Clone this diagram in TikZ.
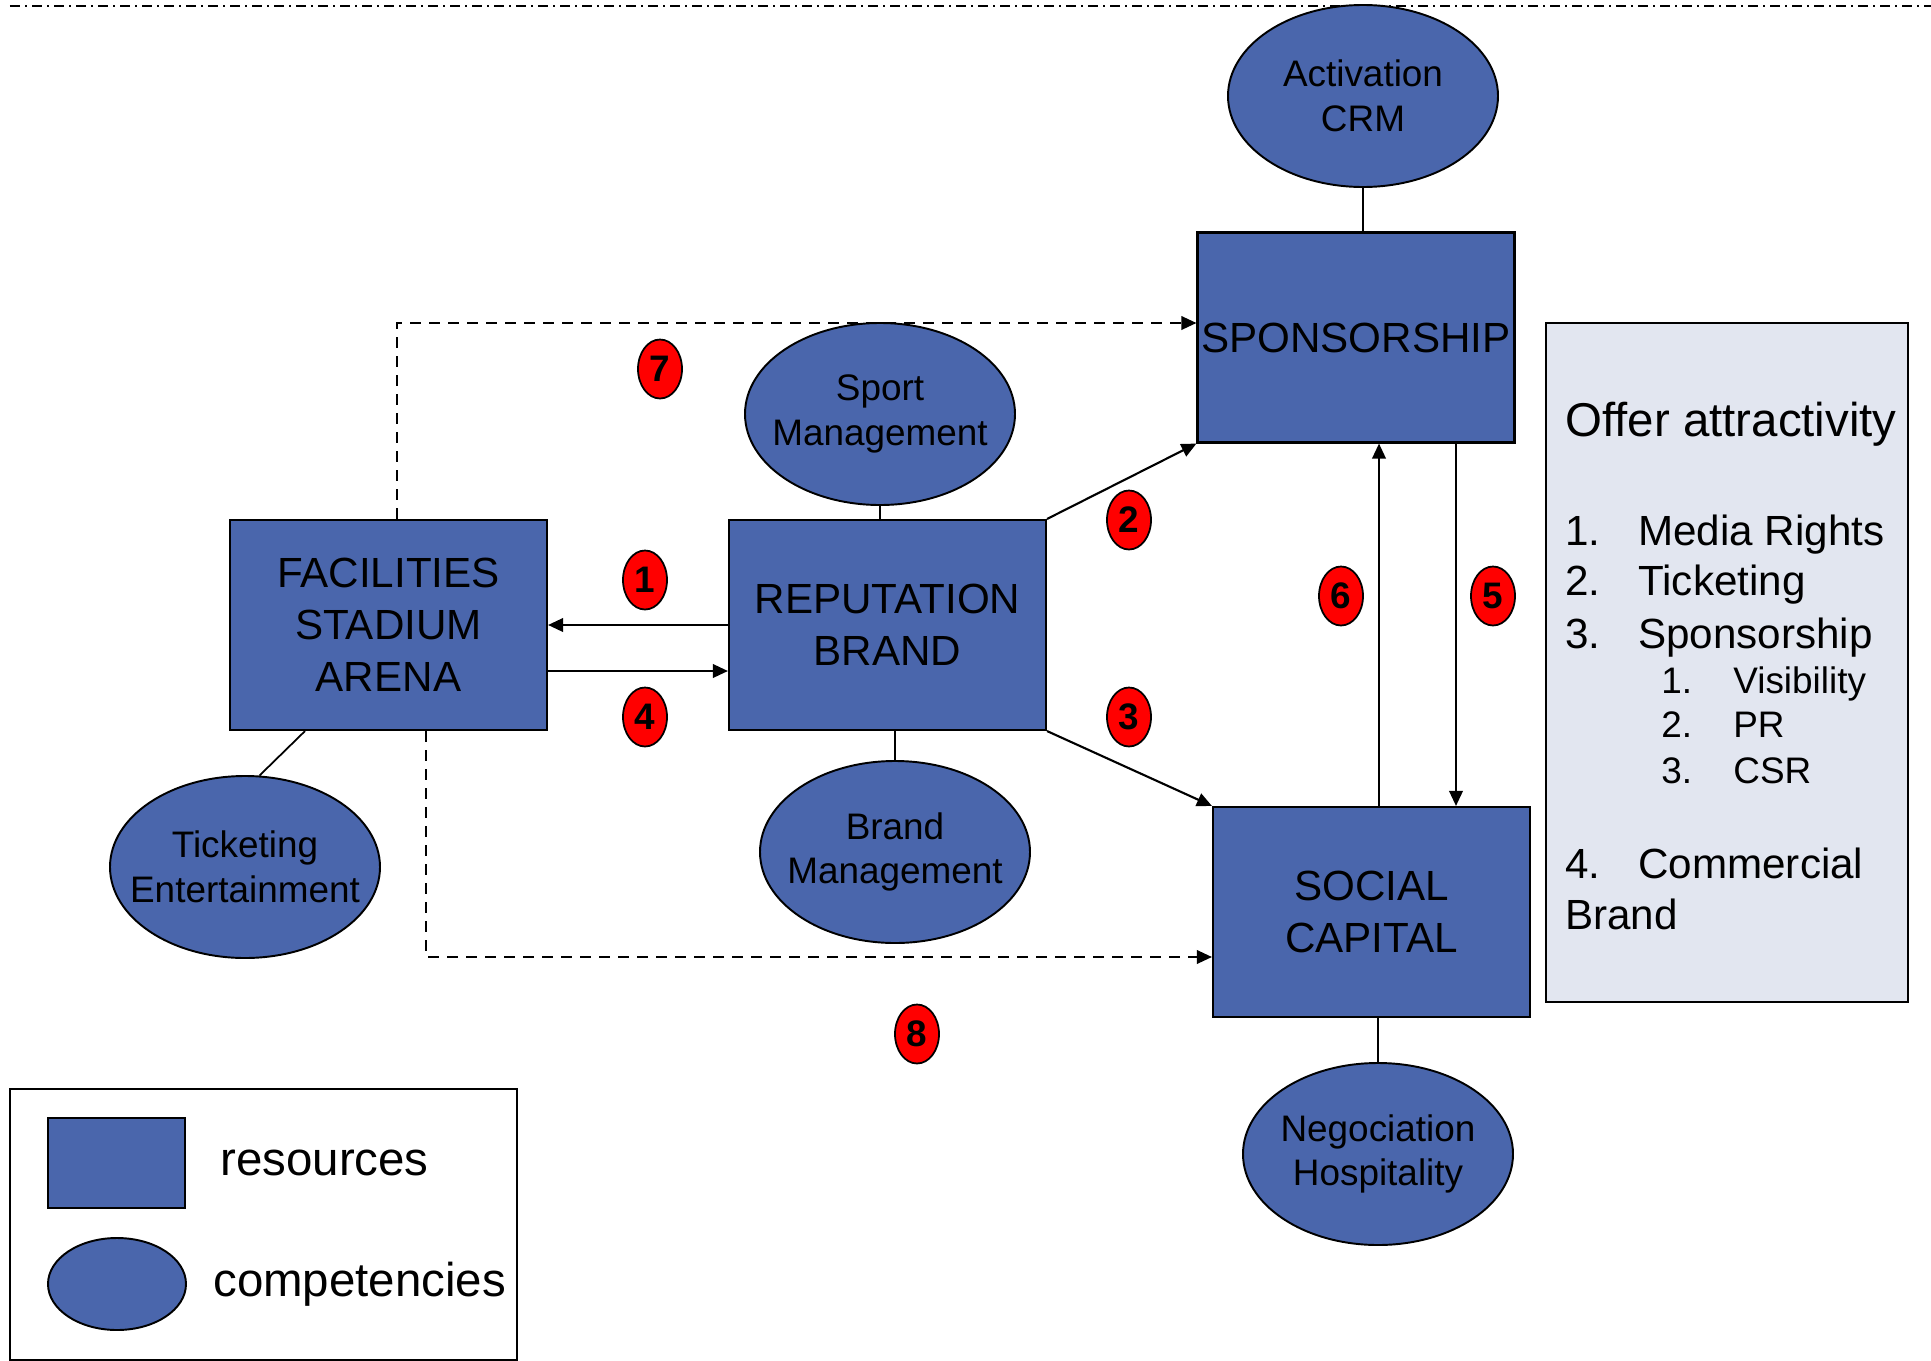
\documentclass[tikz,border=0pt]{standalone}
\usepackage{fontspec}
\setmainfont{Liberation Sans}
\usetikzlibrary{shapes.geometric,arrows.meta,positioning}

\definecolor{resblue}{RGB}{74,102,172}
\definecolor{offerbg}{RGB}{226,230,240}
\definecolor{badgered}{RGB}{255,0,0}

\newcommand{\boxfont}{\fontsize{24}{29.5}\selectfont}
\newcommand{\ovalfont}{\fontsize{21}{25.5}\selectfont}
\newcommand{\keyfont}{\fontsize{27}{32}\selectfont}
\newcommand{\itemfont}{\fontsize{24}{29}\selectfont}
\newcommand{\subfont}{\fontsize{21}{25}\selectfont}
\newcommand{\badgefont}{\fontsize{21}{24}\selectfont\bfseries}

\begin{document}
\begin{tikzpicture}[
    >={Triangle[length=0.3cm,width=0.27cm]},
    resource/.style={rectangle, draw, line width=1.2pt, fill=resblue, minimum width=6.34cm, minimum height=4.2cm, inner sep=0pt, align=center, font=\boxfont},
    competency/.style={ellipse, draw, line width=1.1pt, fill=resblue, minimum width=5.4cm, minimum height=3.64cm, inner xsep=-1.2cm, inner ysep=0pt, align=center, font=\ovalfont},
    badge/.style={ellipse, draw, line width=1pt, fill=badgered, minimum width=0.88cm, minimum height=1.18cm, inner sep=0pt, font=\badgefont},
    link/.style={->, line width=1.2pt},
    flow/.style={->, line width=1.1pt, dash pattern=on 0.22cm off 0.16cm},
    tie/.style={line width=1pt}
]
\useasboundingbox (0,0) rectangle (38.62,-27.22);

% top rule
\draw[line width=1.5pt, dash pattern=on 0.2cm off 0.1cm on 0.04cm off 0.1cm] (0.2,-0.12) -- (38.62,-0.12);

% resources
\node[resource] (facilities) at (7.77,-12.5) {FACILITIES\\STADIUM\\ARENA};
\node[resource] (reputation) at (17.75,-12.5) {REPUTATION\\BRAND};
\node[resource] (sponsorship) at (27.12,-6.75) {SPONSORSHIP};
\node[resource] (social) at (27.43,-18.24) {SOCIAL\\CAPITAL};

% competencies
\node[competency] (activation) at (27.26,-1.92) {Activation\\CRM};
\node[competency] (sport) at (17.6,-8.28) {Sport\\Management};
\node[competency] (brand) at (17.9,-17.04) {Brand\\Management};
\node[competency] (ticketing) at (4.9,-17.34) {Ticketing\\Entertainment};
\node[competency] (negociation) at (27.56,-23.08) {Negociation\\Hospitality};

% ties
\draw[tie] (activation.south) -- (activation.south |- sponsorship.north);
\draw[tie] (sport.south) -- (sport.south |- reputation.north);
\draw[tie] (brand.north) -- (brand.north |- reputation.south);
\draw[tie] (ticketing.81) -- ([xshift=-1.67cm]facilities.south);
\draw[tie] (negociation.north) -- (negociation.north |- social.south);

% flows
\draw[link] (reputation.west) -- (facilities.east);
\draw[link] ([yshift=-0.92cm]facilities.east) -- ([yshift=-0.92cm]reputation.west);
\draw[link] (reputation.north east) -- (sponsorship.south west);
\draw[link] (reputation.south east) -- (social.north west);
\draw[link] ([xshift=0.15cm]social.north) -- ([xshift=0.15cm]social.north |- sponsorship.south);
\draw[link] ([xshift=2cm]sponsorship.south) -- ([xshift=2cm]sponsorship.south |- social.north);
\draw[flow] ([xshift=0.17cm]facilities.north) |- ([yshift=0.29cm]sponsorship.west);
\draw[flow] ([xshift=0.75cm]facilities.south) |- ([yshift=-0.9cm]social.west);

% numbers
\node[badge] (n1) at (12.9,-11.6) {1};
\node[badge] (n2) at (22.58,-10.4) {2};
\node[badge] (n3) at (22.58,-14.34) {3};
\node[badge] (n4) at (12.9,-14.34) {4};
\node[badge] (n5) at (29.86,-11.92) {5};
\node[badge] (n6) at (26.82,-11.92) {6};
\node[badge] (n7) at (13.2,-7.38) {7};
\node[badge] (n8) at (18.34,-20.68) {8};

% offer attractivity
\node[draw, line width=1.2pt, fill=offerbg, minimum width=7.24cm, minimum height=13.58cm, inner sep=0pt] (offer) at (34.54,-13.25) {};
\node[anchor=base west, inner sep=0pt, font=\keyfont] (title) at (31.3,-8.72) {Offer attractivity};
\node[anchor=base west, inner sep=0pt, font=\itemfont] at (31.3,-10.9) {1.};
\node[anchor=base west, inner sep=0pt, font=\itemfont] at (32.76,-10.9) {Media Rights};
\node[anchor=base west, inner sep=0pt, font=\itemfont] at (31.3,-11.9) {2.};
\node[anchor=base west, inner sep=0pt, font=\itemfont] at (32.76,-11.9) {Ticketing};
\node[anchor=base west, inner sep=0pt, font=\itemfont] at (31.3,-12.96) {3.};
\node[anchor=base west, inner sep=0pt, font=\itemfont] at (32.76,-12.96) {Sponsorship};
\node[anchor=base west, inner sep=0pt, font=\subfont] at (33.22,-13.86) {1.};
\node[anchor=base west, inner sep=0pt, font=\subfont] at (34.66,-13.86) {Visibility};
\node[anchor=base west, inner sep=0pt, font=\subfont] at (33.22,-14.74) {2.};
\node[anchor=base west, inner sep=0pt, font=\subfont] at (34.66,-14.74) {PR};
\node[anchor=base west, inner sep=0pt, font=\subfont] at (33.22,-15.66) {3.};
\node[anchor=base west, inner sep=0pt, font=\subfont] at (34.66,-15.66) {CSR};
\node[anchor=base west, inner sep=0pt, font=\itemfont] at (31.3,-17.56) {4.};
\node[anchor=base west, inner sep=0pt, font=\itemfont] at (32.76,-17.56) {Commercial};
\node[anchor=base west, inner sep=0pt, font=\itemfont] at (31.3,-18.58) {Brand};

% legend
\node[draw, line width=1.2pt, minimum width=10.14cm, minimum height=5.42cm, inner sep=0pt] (legend) at (5.27,-24.49) {};
\node[resource, minimum width=2.74cm, minimum height=1.8cm] (keyres) at (2.33,-23.26) {};
\node[competency, minimum width=2.76cm, minimum height=1.84cm, inner xsep=0pt] (keycomp) at (2.34,-25.68) {};
\node[right=0.68cm of keyres, inner sep=0pt, font=\keyfont] {resources};
\node[right=0.52cm of keycomp, inner sep=0pt, font=\keyfont] {competencies};

\end{tikzpicture}
\end{document}
